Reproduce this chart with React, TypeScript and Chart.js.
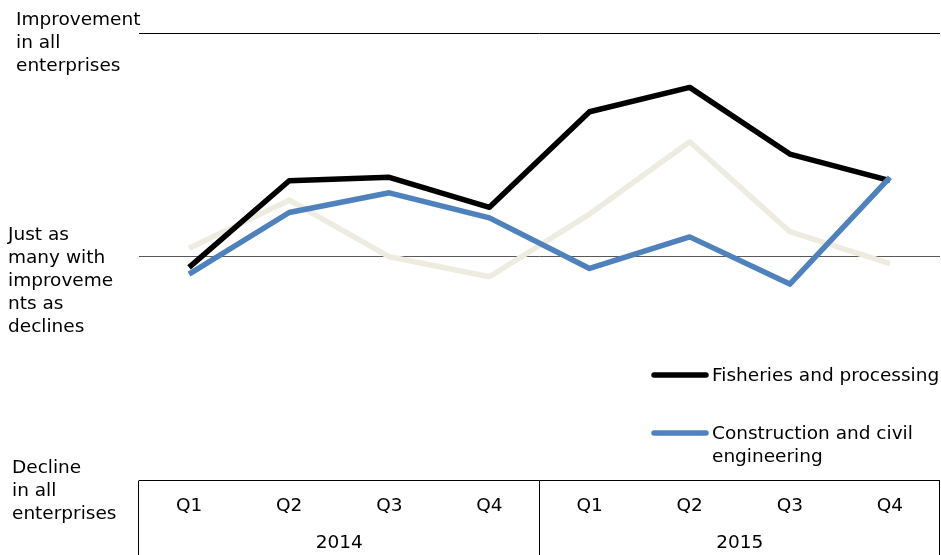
import React, { useEffect, useRef } from "react";
import { Chart, registerables } from "chart.js";

Chart.register(...registerables);

const quarters = ["Q1", "Q2", "Q3", "Q4", "Q1", "Q2", "Q3", "Q4"];
const years = ["2014", "2015"];

const fisheries = [-4.7, 34.0, 35.5, 22.1, 64.8, 75.7, 45.9, 34.0];
const construction = [-7.7, 19.8, 28.6, 17.4, -5.2, 8.9, -12.2, 35.5];
const allIndustries = [3.8, 25.3, 0.0, -8.9, 19.1, 51.4, 11.2, -3.0];

const seriesNames = ["Fisheries and processing", "Construction and civil engineering", "All industries"];
const seriesColors = ["#000000", "#4F81BD", "#EEECE1"];

const yLabelValues = [100, 0, -100];
const yLabelTexts = [
  ["Improvement", "in all", "enterprises"],
  ["Just as", "many with", "improveme", "nts as", "declines"],
  ["Decline", "in all", "enterprises"],
];

const FONT = "DejaVu Sans";
const FS = 18.5;

export default function App() {
  const ref = useRef<HTMLCanvasElement | null>(null);

  useEffect(() => {
    if (!ref.current) return;

    const yLabelsPlugin = {
      id: "yLabels",
      afterDraw(chart: any) {
        const ctx = chart.ctx;
        const y = chart.scales.y;
        const offsets = [-13, -21.5, -12.5];
        const lefts = [16, 8, 12];
        ctx.save();
        ctx.font = `${FS}px "${FONT}"`;
        ctx.fillStyle = "#000";
        ctx.textAlign = "left";
        ctx.textBaseline = "middle";
        yLabelValues.forEach((v, i) => {
          const py = y.getPixelForValue(v) + offsets[i];
          yLabelTexts[i].forEach((line, j) => {
            ctx.fillText(line, lefts[i], py + j * 23);
          });
        });
        ctx.restore();
      },
    };

    const boxPlugin = {
      id: "xBox",
      afterDraw(chart: any) {
        const ctx = chart.ctx;
        const x = chart.scales.x;
        const half = (x.getPixelForValue(1) - x.getPixelForValue(0)) / 2;
        const bounds = [0, 4, 8];
        ctx.save();
        ctx.strokeStyle = "#000";
        ctx.lineWidth = 1;
        bounds.forEach((b) => {
          const px =
            b < quarters.length ? x.getPixelForValue(b) - half : x.getPixelForValue(quarters.length - 1) + half;
          const xx = Math.round(px) - 0.5;
          ctx.beginPath();
          ctx.moveTo(xx, chart.chartArea.bottom);
          ctx.lineTo(xx, chart.height);
          ctx.stroke();
        });
        ctx.restore();
      },
    };

    const legendPlugin = {
      id: "customLegend",
      afterDraw(chart: any) {
        const ctx = chart.ctx;
        const bottom = chart.chartArea.bottom;
        const rowYs = [bottom - 105.5, bottom - 47.5];
        const lineX0 = 654;
        const lineX1 = 706;
        const textX = 712;
        const maxW = chart.width - textX + 6;
        ctx.save();
        ctx.font = `${FS}px "${FONT}"`;
        ctx.textAlign = "left";
        ctx.textBaseline = "middle";
        [0, 1].forEach((di, r) => {
          const ds = chart.data.datasets[di];
          const yy = rowYs[r];
          ctx.strokeStyle = ds.borderColor;
          ctx.lineWidth = 5.5;
          ctx.lineCap = "round";
          ctx.beginPath();
          ctx.moveTo(lineX0, yy);
          ctx.lineTo(lineX1, yy);
          ctx.stroke();
          const words = String(ds.label).split(" ");
          const lines: string[] = [];
          let cur = "";
          words.forEach((w) => {
            const test = cur ? cur + " " + w : w;
            if (ctx.measureText(test).width > maxW && cur) {
              lines.push(cur);
              cur = w;
            } else cur = test;
          });
          if (cur) lines.push(cur);
          ctx.fillStyle = "#000";
          lines.forEach((l, j) => ctx.fillText(l, textX, yy + 1 + j * 23));
        });
        ctx.restore();
      },
    };

    const chart = new Chart(ref.current, {
      type: "line",
      data: {
        labels: quarters,
        datasets: [
          {
            label: seriesNames[0],
            data: fisheries,
            borderColor: seriesColors[0],
            backgroundColor: seriesColors[0],
            borderWidth: 5.5,
            pointRadius: 0,
            tension: 0,
            order: 1,
          },
          {
            label: seriesNames[1],
            data: construction,
            borderColor: seriesColors[1],
            backgroundColor: seriesColors[1],
            borderWidth: 5.5,
            pointRadius: 0,
            tension: 0,
            order: 0,
          },
          {
            label: seriesNames[2],
            data: allIndustries,
            borderColor: seriesColors[2],
            backgroundColor: seriesColors[2],
            borderWidth: 5.5,
            pointRadius: 0,
            tension: 0,
            order: 2,
          },
        ],
      },
      options: {
        animation: false,
        responsive: false,
        maintainAspectRatio: false,
        layout: { padding: { top: 33, right: 1, left: 0, bottom: 0 } },
        plugins: {
          legend: { display: false },
          tooltip: { enabled: false },
        },
        elements: { line: { borderJoinStyle: "round", borderCapStyle: "butt" } },
        scales: {
          y: {
            min: -100,
            max: 100,
            ticks: { stepSize: 100, display: false },
            border: { display: false },
            grid: {
              drawTicks: false,
              color: (c: any) => (c.tick && c.tick.value === 0 ? "#595959" : "#000000"),
              lineWidth: 1,
            },
            afterFit: (s: any) => {
              s.width = 139;
            },
          },
          x: {
            type: "category",
            offset: true,
            grid: { display: false, drawTicks: false },
            border: { display: false },
            ticks: {
              color: "#000",
              font: { family: FONT, size: FS },
              padding: 14,
              maxRotation: 0,
              autoSkip: false,
            },
          },
          x2: {
            type: "category",
            position: "bottom",
            labels: years,
            offset: true,
            grid: { display: false, drawTicks: false },
            border: { display: false },
            ticks: {
              color: "#000",
              font: { family: FONT, size: FS },
              padding: 1,
              maxRotation: 0,
              autoSkip: false,
            },
          },
        },
      },
      plugins: [yLabelsPlugin, boxPlugin, legendPlugin],
    });

    return () => chart.destroy();
  }, []);

  return (
    <div style={{ position: "fixed", left: 0, top: 0, width: 941, height: 555, background: "#fff" }}>
      <canvas ref={ref} width={941} height={555} style={{ display: "block", width: 941, height: 555 }} />
    </div>
  );
}
